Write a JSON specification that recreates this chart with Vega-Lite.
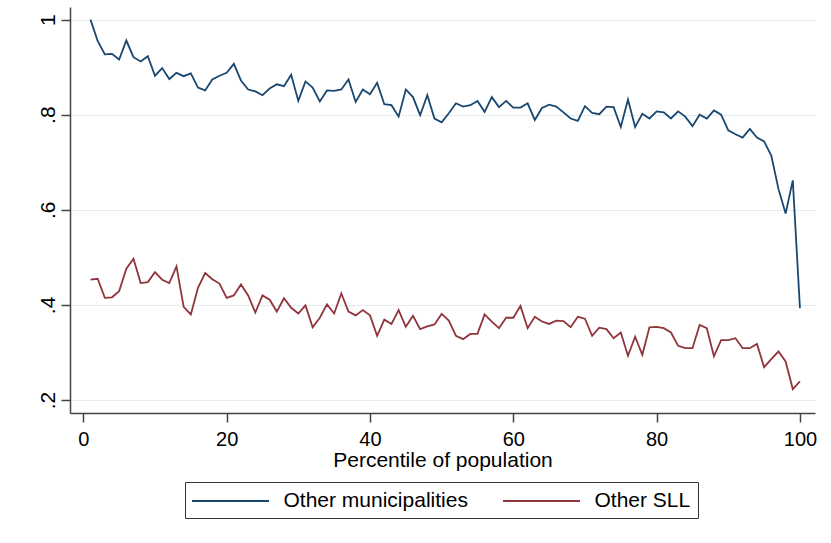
{
  "$schema": "https://vega.github.io/schema/vega-lite/v6.json",
  "width": 745,
  "height": 406,
  "autosize": {"type": "none"},
  "padding": {"left": 70, "top": 7, "right": 16, "bottom": 130},
  "background": "white",
  "config": {"view": {"stroke": null}, "font": "Liberation Sans"},
  "data": {"values": [
    {"pct":1,"series":"Other municipalities","value":1.0},
    {"pct":2,"series":"Other municipalities","value":0.955},
    {"pct":3,"series":"Other municipalities","value":0.927},
    {"pct":4,"series":"Other municipalities","value":0.928},
    {"pct":5,"series":"Other municipalities","value":0.916},
    {"pct":6,"series":"Other municipalities","value":0.956},
    {"pct":7,"series":"Other municipalities","value":0.921},
    {"pct":8,"series":"Other municipalities","value":0.912},
    {"pct":9,"series":"Other municipalities","value":0.923},
    {"pct":10,"series":"Other municipalities","value":0.882},
    {"pct":11,"series":"Other municipalities","value":0.898},
    {"pct":12,"series":"Other municipalities","value":0.875},
    {"pct":13,"series":"Other municipalities","value":0.888},
    {"pct":14,"series":"Other municipalities","value":0.881},
    {"pct":15,"series":"Other municipalities","value":0.887},
    {"pct":16,"series":"Other municipalities","value":0.857},
    {"pct":17,"series":"Other municipalities","value":0.851},
    {"pct":18,"series":"Other municipalities","value":0.874},
    {"pct":19,"series":"Other municipalities","value":0.882},
    {"pct":20,"series":"Other municipalities","value":0.888},
    {"pct":21,"series":"Other municipalities","value":0.907},
    {"pct":22,"series":"Other municipalities","value":0.872},
    {"pct":23,"series":"Other municipalities","value":0.853},
    {"pct":24,"series":"Other municipalities","value":0.849},
    {"pct":25,"series":"Other municipalities","value":0.841},
    {"pct":26,"series":"Other municipalities","value":0.855},
    {"pct":27,"series":"Other municipalities","value":0.864},
    {"pct":28,"series":"Other municipalities","value":0.860},
    {"pct":29,"series":"Other municipalities","value":0.884},
    {"pct":30,"series":"Other municipalities","value":0.829},
    {"pct":31,"series":"Other municipalities","value":0.870},
    {"pct":32,"series":"Other municipalities","value":0.857},
    {"pct":33,"series":"Other municipalities","value":0.828},
    {"pct":34,"series":"Other municipalities","value":0.851},
    {"pct":35,"series":"Other municipalities","value":0.850},
    {"pct":36,"series":"Other municipalities","value":0.853},
    {"pct":37,"series":"Other municipalities","value":0.874},
    {"pct":38,"series":"Other municipalities","value":0.827},
    {"pct":39,"series":"Other municipalities","value":0.853},
    {"pct":40,"series":"Other municipalities","value":0.843},
    {"pct":41,"series":"Other municipalities","value":0.867},
    {"pct":42,"series":"Other municipalities","value":0.822},
    {"pct":43,"series":"Other municipalities","value":0.820},
    {"pct":44,"series":"Other municipalities","value":0.796},
    {"pct":45,"series":"Other municipalities","value":0.853},
    {"pct":46,"series":"Other municipalities","value":0.837},
    {"pct":47,"series":"Other municipalities","value":0.799},
    {"pct":48,"series":"Other municipalities","value":0.841},
    {"pct":49,"series":"Other municipalities","value":0.792},
    {"pct":50,"series":"Other municipalities","value":0.784},
    {"pct":51,"series":"Other municipalities","value":0.803},
    {"pct":52,"series":"Other municipalities","value":0.824},
    {"pct":53,"series":"Other municipalities","value":0.817},
    {"pct":54,"series":"Other municipalities","value":0.820},
    {"pct":55,"series":"Other municipalities","value":0.829},
    {"pct":56,"series":"Other municipalities","value":0.806},
    {"pct":57,"series":"Other municipalities","value":0.837},
    {"pct":58,"series":"Other municipalities","value":0.816},
    {"pct":59,"series":"Other municipalities","value":0.829},
    {"pct":60,"series":"Other municipalities","value":0.815},
    {"pct":61,"series":"Other municipalities","value":0.815},
    {"pct":62,"series":"Other municipalities","value":0.824},
    {"pct":63,"series":"Other municipalities","value":0.789},
    {"pct":64,"series":"Other municipalities","value":0.814},
    {"pct":65,"series":"Other municipalities","value":0.821},
    {"pct":66,"series":"Other municipalities","value":0.817},
    {"pct":67,"series":"Other municipalities","value":0.805},
    {"pct":68,"series":"Other municipalities","value":0.792},
    {"pct":69,"series":"Other municipalities","value":0.787},
    {"pct":70,"series":"Other municipalities","value":0.818},
    {"pct":71,"series":"Other municipalities","value":0.804},
    {"pct":72,"series":"Other municipalities","value":0.801},
    {"pct":73,"series":"Other municipalities","value":0.817},
    {"pct":74,"series":"Other municipalities","value":0.816},
    {"pct":75,"series":"Other municipalities","value":0.774},
    {"pct":76,"series":"Other municipalities","value":0.832},
    {"pct":77,"series":"Other municipalities","value":0.774},
    {"pct":78,"series":"Other municipalities","value":0.802},
    {"pct":79,"series":"Other municipalities","value":0.792},
    {"pct":80,"series":"Other municipalities","value":0.807},
    {"pct":81,"series":"Other municipalities","value":0.805},
    {"pct":82,"series":"Other municipalities","value":0.792},
    {"pct":83,"series":"Other municipalities","value":0.807},
    {"pct":84,"series":"Other municipalities","value":0.796},
    {"pct":85,"series":"Other municipalities","value":0.776},
    {"pct":86,"series":"Other municipalities","value":0.800},
    {"pct":87,"series":"Other municipalities","value":0.792},
    {"pct":88,"series":"Other municipalities","value":0.809},
    {"pct":89,"series":"Other municipalities","value":0.800},
    {"pct":90,"series":"Other municipalities","value":0.767},
    {"pct":91,"series":"Other municipalities","value":0.759},
    {"pct":92,"series":"Other municipalities","value":0.752},
    {"pct":93,"series":"Other municipalities","value":0.770},
    {"pct":94,"series":"Other municipalities","value":0.752},
    {"pct":95,"series":"Other municipalities","value":0.744},
    {"pct":96,"series":"Other municipalities","value":0.714},
    {"pct":97,"series":"Other municipalities","value":0.644},
    {"pct":98,"series":"Other municipalities","value":0.592},
    {"pct":99,"series":"Other municipalities","value":0.662},
    {"pct":100,"series":"Other municipalities","value":0.393},
    {"pct":1,"series":"Other SLL","value":0.453},
    {"pct":2,"series":"Other SLL","value":0.455},
    {"pct":3,"series":"Other SLL","value":0.415},
    {"pct":4,"series":"Other SLL","value":0.416},
    {"pct":5,"series":"Other SLL","value":0.429},
    {"pct":6,"series":"Other SLL","value":0.476},
    {"pct":7,"series":"Other SLL","value":0.497},
    {"pct":8,"series":"Other SLL","value":0.446},
    {"pct":9,"series":"Other SLL","value":0.448},
    {"pct":10,"series":"Other SLL","value":0.469},
    {"pct":11,"series":"Other SLL","value":0.453},
    {"pct":12,"series":"Other SLL","value":0.446},
    {"pct":13,"series":"Other SLL","value":0.481},
    {"pct":14,"series":"Other SLL","value":0.396},
    {"pct":15,"series":"Other SLL","value":0.380},
    {"pct":16,"series":"Other SLL","value":0.436},
    {"pct":17,"series":"Other SLL","value":0.467},
    {"pct":18,"series":"Other SLL","value":0.454},
    {"pct":19,"series":"Other SLL","value":0.445},
    {"pct":20,"series":"Other SLL","value":0.415},
    {"pct":21,"series":"Other SLL","value":0.420},
    {"pct":22,"series":"Other SLL","value":0.443},
    {"pct":23,"series":"Other SLL","value":0.420},
    {"pct":24,"series":"Other SLL","value":0.384},
    {"pct":25,"series":"Other SLL","value":0.420},
    {"pct":26,"series":"Other SLL","value":0.411},
    {"pct":27,"series":"Other SLL","value":0.386},
    {"pct":28,"series":"Other SLL","value":0.414},
    {"pct":29,"series":"Other SLL","value":0.394},
    {"pct":30,"series":"Other SLL","value":0.382},
    {"pct":31,"series":"Other SLL","value":0.399},
    {"pct":32,"series":"Other SLL","value":0.353},
    {"pct":33,"series":"Other SLL","value":0.373},
    {"pct":34,"series":"Other SLL","value":0.401},
    {"pct":35,"series":"Other SLL","value":0.382},
    {"pct":36,"series":"Other SLL","value":0.424},
    {"pct":37,"series":"Other SLL","value":0.386},
    {"pct":38,"series":"Other SLL","value":0.378},
    {"pct":39,"series":"Other SLL","value":0.389},
    {"pct":40,"series":"Other SLL","value":0.378},
    {"pct":41,"series":"Other SLL","value":0.335},
    {"pct":42,"series":"Other SLL","value":0.369},
    {"pct":43,"series":"Other SLL","value":0.360},
    {"pct":44,"series":"Other SLL","value":0.389},
    {"pct":45,"series":"Other SLL","value":0.354},
    {"pct":46,"series":"Other SLL","value":0.377},
    {"pct":47,"series":"Other SLL","value":0.349},
    {"pct":48,"series":"Other SLL","value":0.355},
    {"pct":49,"series":"Other SLL","value":0.359},
    {"pct":50,"series":"Other SLL","value":0.381},
    {"pct":51,"series":"Other SLL","value":0.367},
    {"pct":52,"series":"Other SLL","value":0.335},
    {"pct":53,"series":"Other SLL","value":0.328},
    {"pct":54,"series":"Other SLL","value":0.339},
    {"pct":55,"series":"Other SLL","value":0.339},
    {"pct":56,"series":"Other SLL","value":0.380},
    {"pct":57,"series":"Other SLL","value":0.365},
    {"pct":58,"series":"Other SLL","value":0.351},
    {"pct":59,"series":"Other SLL","value":0.373},
    {"pct":60,"series":"Other SLL","value":0.373},
    {"pct":61,"series":"Other SLL","value":0.398},
    {"pct":62,"series":"Other SLL","value":0.351},
    {"pct":63,"series":"Other SLL","value":0.375},
    {"pct":64,"series":"Other SLL","value":0.365},
    {"pct":65,"series":"Other SLL","value":0.360},
    {"pct":66,"series":"Other SLL","value":0.367},
    {"pct":67,"series":"Other SLL","value":0.366},
    {"pct":68,"series":"Other SLL","value":0.353},
    {"pct":69,"series":"Other SLL","value":0.375},
    {"pct":70,"series":"Other SLL","value":0.371},
    {"pct":71,"series":"Other SLL","value":0.335},
    {"pct":72,"series":"Other SLL","value":0.352},
    {"pct":73,"series":"Other SLL","value":0.349},
    {"pct":74,"series":"Other SLL","value":0.330},
    {"pct":75,"series":"Other SLL","value":0.342},
    {"pct":76,"series":"Other SLL","value":0.293},
    {"pct":77,"series":"Other SLL","value":0.333},
    {"pct":78,"series":"Other SLL","value":0.295},
    {"pct":79,"series":"Other SLL","value":0.353},
    {"pct":80,"series":"Other SLL","value":0.354},
    {"pct":81,"series":"Other SLL","value":0.351},
    {"pct":82,"series":"Other SLL","value":0.342},
    {"pct":83,"series":"Other SLL","value":0.314},
    {"pct":84,"series":"Other SLL","value":0.309},
    {"pct":85,"series":"Other SLL","value":0.309},
    {"pct":86,"series":"Other SLL","value":0.358},
    {"pct":87,"series":"Other SLL","value":0.351},
    {"pct":88,"series":"Other SLL","value":0.292},
    {"pct":89,"series":"Other SLL","value":0.326},
    {"pct":90,"series":"Other SLL","value":0.326},
    {"pct":91,"series":"Other SLL","value":0.330},
    {"pct":92,"series":"Other SLL","value":0.309},
    {"pct":93,"series":"Other SLL","value":0.309},
    {"pct":94,"series":"Other SLL","value":0.318},
    {"pct":95,"series":"Other SLL","value":0.269},
    {"pct":96,"series":"Other SLL","value":0.286},
    {"pct":97,"series":"Other SLL","value":0.302},
    {"pct":98,"series":"Other SLL","value":0.281},
    {"pct":99,"series":"Other SLL","value":0.223},
    {"pct":100,"series":"Other SLL","value":0.239}
  ]},
  "mark": {"type": "line", "strokeWidth": 1.8, "clip": true},
  "encoding": {
    "x": {
      "field": "pct", "type": "quantitative",
      "scale": {"domain": [-1.86, 102.1], "nice": false, "zero": false},
      "axis": {
        "values": [0, 20, 40, 60, 80, 100],
        "title": "Percentile of population",
        "grid": false,
        "labelFontSize": 20, "titleFontSize": 21, "titleFontWeight": "normal",
        "labelColor": "black", "titleColor": "black",
        "domainColor": "#444", "domainWidth": 1.5,
        "tickColor": "#444", "tickWidth": 1.5, "tickSize": 9,
        "labelPadding": 7, "titlePadding": 0, "labelFlush": false
      }
    },
    "y": {
      "field": "value", "type": "quantitative",
      "scale": {"domain": [0.1727, 1.0265], "nice": false, "zero": false},
      "axis": {
        "values": [0.2, 0.4, 0.6, 0.8, 1],
        "title": null,
        "grid": true, "gridColor": "#e3ecef", "gridWidth": 1,
        "labelAngle": -90, "labelFontSize": 21, "labelColor": "black",
        "labelExpr": "datum.value == 1 ? '1' : replace(format(datum.value, '.1f'), '0.', '.')",
        "domainColor": "#444", "domainWidth": 1.5,
        "tickColor": "#444", "tickWidth": 1.5, "tickSize": 9,
        "labelPadding": 3, "labelFlush": false
      }
    },
    "color": {
      "field": "series", "type": "nominal",
      "scale": {"domain": ["Other municipalities", "Other SLL"], "range": ["#1a476f", "#90353b"]},
      "legend": {
        "title": null, "orient": "none", "direction": "horizontal",
        "legendX": 115, "legendY": 475,
        "symbolType": "M-3.5,0H3.5", "symbolSize": 484, "symbolStrokeWidth": 1.8,
        "symbolOffset": 26.5,
        "labelFontSize": 21, "labelColor": "black", "labelOffset": 41,
        "columnPadding": 31, "padding": 7,
        "strokeColor": "#333", "fillColor": "white", "labelLimit": 400
      }
    }
  }
}
